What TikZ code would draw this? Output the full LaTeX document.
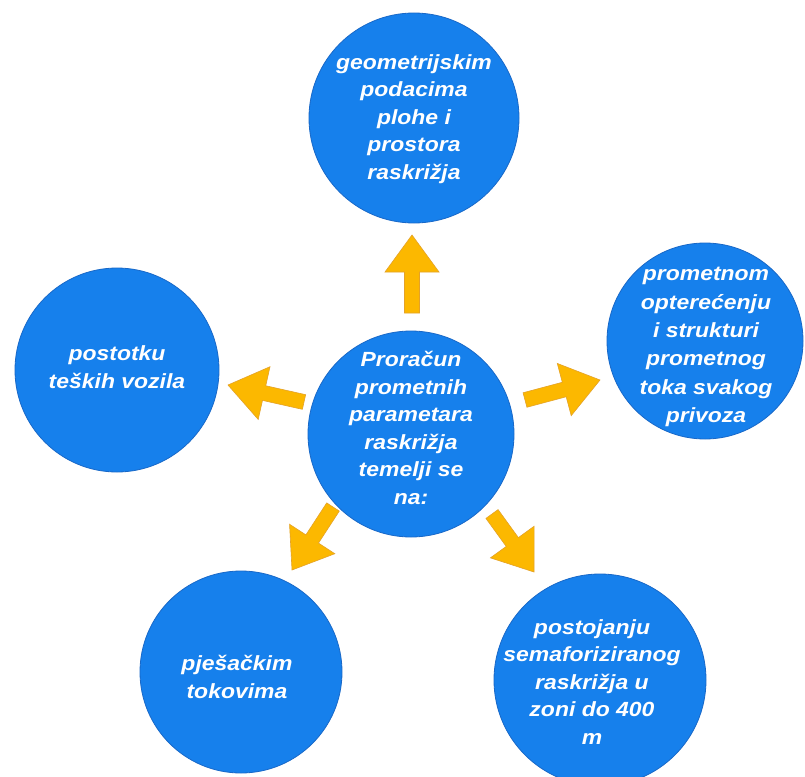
\documentclass[tikz,border=0pt]{standalone}
\usepackage{fontspec}
\newfontfamily\lblfont[FakeStretch=1.12]{Liberation Sans}
\usetikzlibrary{calc}
\definecolor{circblue}{RGB}{22,128,236}
\definecolor{circedge}{RGB}{24,104,200}
\definecolor{arrowfill}{RGB}{252,184,0}
\definecolor{arrowedge}{RGB}{228,162,40}
\tikzset{
  bubble/.style={circle, fill=circblue, draw=circedge, line width=0.8pt, inner sep=0pt},
  lbl/.style={text=white, font=\lblfont\bfseries\itshape\fontsize{20.5}{27.5}\selectfont, align=center, inner sep=0pt},
}
\newcommand\barrow[2]{%
  \filldraw[fill=arrowfill, draw=arrowedge, line width=0.6pt, line join=miter]
  let \p1=(#1), \p2=(#2), \n1={atan2(\y2-\y1,\x2-\x1)} in
  ($(#1)+(\n1+90:7.5pt)$) -- ($(#2)+(\n1+180:37pt)+(\n1+90:7.5pt)$) --
  ($(#2)+(\n1+180:37pt)+(\n1+90:27pt)$) -- (#2) --
  ($(#2)+(\n1+180:37pt)+(\n1-90:27pt)$) -- ($(#2)+(\n1+180:37pt)+(\n1-90:7.5pt)$) --
  ($(#1)+(\n1-90:7.5pt)$) -- cycle;}
\begin{document}
\begin{tikzpicture}[x=1pt,y=-1pt]
\useasboundingbox (0,0) rectangle (805,776);
\clip (0,0) rectangle (805,776);
\fill[white] (0,0) rectangle (805,776);

% circles
\node[bubble, minimum size=206pt] (c)  at (411,434) {};
\node[bubble, minimum size=210pt] (t)  at (414,118) {};
\node[bubble, minimum size=204pt] (l)  at (117,370) {};
\node[bubble, minimum size=196pt] (r)  at (705,341) {};
\node[bubble, minimum size=202pt] (bl) at (241,672) {};
\node[bubble, minimum size=212pt] (br) at (600,680) {};

% texts
\node[lbl] (ct)  at (411,428) {Proračun\\prometnih\\parametara\\raskrižja\\temelji se\\na:};
\node[lbl] (tt)  at (414,119) {geometrijskim\\podacima\\plohe i\\prostora\\raskrižja};
\node[lbl] (lt)  at (117,367) {postotku\\teških vozila};
\node[lbl, font=\lblfont\bfseries\itshape\fontsize{20.5}{28.3}\selectfont] (rt) at (706,347) {prometnom\\opterećenju\\i strukturi\\prometnog\\toka svakog\\privoza};
\node[lbl] (blt) at (237,677) {pješačkim\\tokovima};
\node[lbl] (brt) at (592,682) {postojanju\\semaforiziranog\\raskrižja u\\zoni do 400\\m};

% arrows
\coordinate (a1s) at (412,313); \coordinate (a1e) at (412,235);
\coordinate (a2s) at (304,402); \coordinate (a2e) at (228,385);
\coordinate (a3s) at (525,400); \coordinate (a3e) at (600,380);
\coordinate (a4s) at (333,507); \coordinate (a4e) at (292,570);
\coordinate (a5s) at (492,514); \coordinate (a5e) at (534,572);
\barrow{a1s}{a1e}
\barrow{a2s}{a2e}
\barrow{a3s}{a3e}
\barrow{a4s}{a4e}
\barrow{a5s}{a5e}
\end{tikzpicture}
\end{document}
